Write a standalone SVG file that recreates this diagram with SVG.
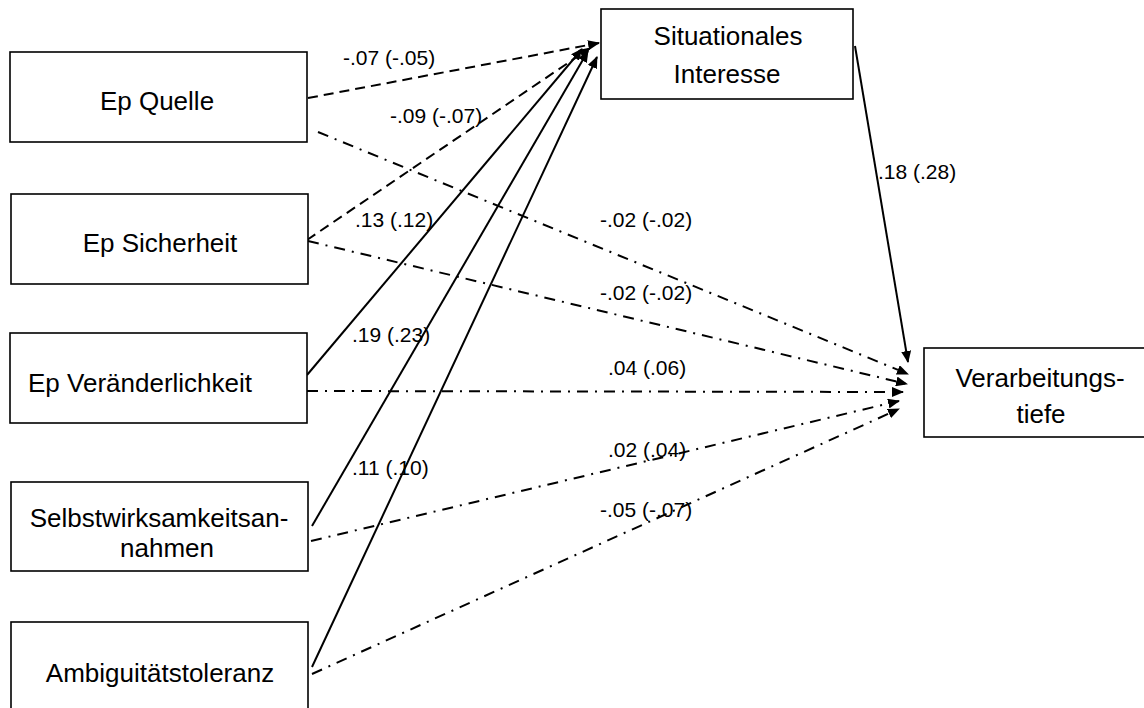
<svg xmlns="http://www.w3.org/2000/svg" width="1144" height="708" viewBox="0 0 1144 708">
<style>
.box{fill:#fff;stroke:#000;stroke-width:1.6}
.t{font-family:"Liberation Sans",Arial,sans-serif;font-size:26px;fill:#000;text-anchor:middle}
.l{font-family:"Liberation Sans",Arial,sans-serif;font-size:21px;fill:#000}
.c{fill:none;stroke:#000;stroke-width:2}
.dash{stroke-dasharray:10 6}
.dd{stroke-dasharray:11 7 2 7}
</style>
<defs>
<marker id="ah" markerUnits="userSpaceOnUse" markerWidth="12" markerHeight="10" refX="11" refY="5" orient="auto">
<path d="M0,0 L12,5 L0,10 z" fill="#000"/>
</marker>
</defs>
<rect width="1144" height="708" fill="#fff"/>
<g id="connectors">
<line class="c dash" x1="308" y1="98" x2="599" y2="43" marker-end="url(#ah)"/>
<line class="c dash" x1="307" y1="240" x2="590" y2="48" marker-end="url(#ah)"/>
<line class="c" x1="307" y1="375" x2="582" y2="49" marker-end="url(#ah)"/>
<line class="c" x1="312" y1="526" x2="588" y2="51" marker-end="url(#ah)"/>
<line class="c" x1="312" y1="667" x2="597" y2="57" marker-end="url(#ah)"/>
<line class="c" x1="855" y1="46" x2="908" y2="362" marker-end="url(#ah)"/>
<line class="c dd" x1="318" y1="132" x2="908" y2="374" marker-end="url(#ah)"/>
<line class="c dd" x1="308" y1="241" x2="907" y2="384" marker-end="url(#ah)"/>
<line class="c dd" x1="307" y1="391" x2="903" y2="392" marker-end="url(#ah)"/>
<line class="c dd" x1="311" y1="541" x2="899" y2="401" marker-end="url(#ah)"/>
<line class="c dd" x1="312" y1="674" x2="899" y2="409" marker-end="url(#ah)"/>
</g>
<g id="labels">
<text class="l" x="343" y="65">-.07 (-.05)</text>
<text class="l" x="390" y="123">-.09 (-.07)</text>
<text class="l" x="355" y="227">.13 (.12)</text>
<text class="l" x="352" y="342">.19 (.23)</text>
<text class="l" x="352" y="475">.11 (.10)</text>
<text class="l" x="878" y="179">.18 (.28)</text>
<text class="l" x="600" y="227">-.02 (-.02)</text>
<text class="l" x="600" y="300">-.02 (-.02)</text>
<text class="l" x="608" y="375">.04 (.06)</text>
<text class="l" x="608" y="457">.02 (.04)</text>
<text class="l" x="600" y="517">-.05 (-.07)</text>
</g>
<g id="ep-quelle">
<rect class="box" x="10" y="52" width="297" height="90"/>
<text class="t" x="157" y="110">Ep Quelle</text>
</g>
<g id="ep-sicherheit">
<rect class="box" x="11" y="194" width="297" height="90"/>
<text class="t" x="160" y="252">Ep Sicherheit</text>
</g>
<g id="ep-veraenderlichkeit">
<rect class="box" x="10" y="333" width="297" height="90"/>
<text class="t" x="140" y="392">Ep Veränderlichkeit</text>
</g>
<g id="selbstwirksamkeit">
<rect class="box" x="11" y="482" width="297" height="89"/>
<text class="t" x="159" y="527">Selbstwirksamkeitsan-</text>
<text class="t" x="167" y="557">nahmen</text>
</g>
<g id="ambiguitaet">
<rect class="box" x="11" y="622" width="297" height="92"/>
<text class="t" x="160" y="682">Ambiguitätstoleranz</text>
</g>
<g id="situationales-interesse">
<rect class="box" x="601" y="9" width="252" height="90"/>
<text class="t" x="728" y="45">Situationales</text>
<text class="t" x="727" y="83">Interesse</text>
</g>
<g id="verarbeitungstiefe">
<rect class="box" x="924" y="348" width="230" height="89"/>
<text class="t" x="1040" y="387">Verarbeitungs-</text>
<text class="t" x="1041" y="423">tiefe</text>
</g>
</svg>
